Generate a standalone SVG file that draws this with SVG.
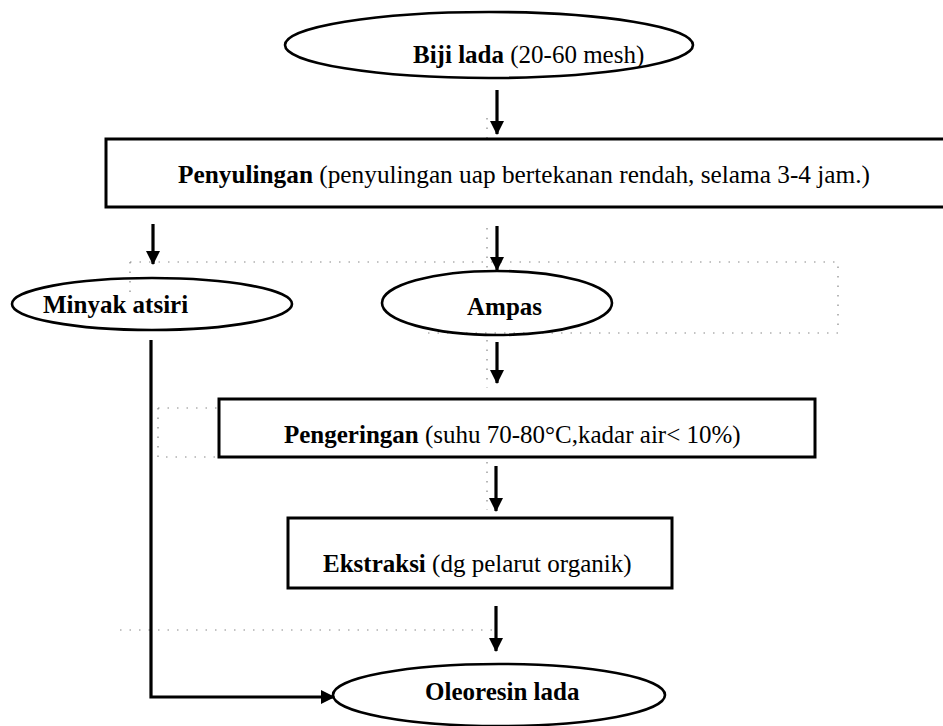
<svg xmlns="http://www.w3.org/2000/svg" width="943" height="726" viewBox="0 0 943 726">
  <defs>
    <marker id="arrowhead" markerWidth="14" markerHeight="16" refX="13" refY="8" orient="auto" markerUnits="userSpaceOnUse">
      <path d="M0,1 L14,8 L0,15 Z" fill="#000"/>
    </marker>
    <style>
      .shape { fill: #fff; stroke: #000; stroke-width: 3; }
      .ell { fill: none; stroke: #000; stroke-width: 2.6; }
      .lbl { font-family: "Liberation Serif", "Times New Roman", serif; font-size: 25px; fill: #000; }
      .b { font-weight: bold; }
      .conn { fill: none; stroke: #000; stroke-width: 3.2; marker-end: url(#arrowhead); }
      .guide { fill: none; stroke: #888; stroke-width: 1.2; stroke-dasharray: 1.5 8; }
    </style>
  </defs>
  <rect width="943" height="726" fill="#fff"/>

  <!-- faint dotted frame lines left in the page -->
  <g id="guides">
    <path class="guide" d="M130,262 H838 V333 H420"/>
    <path class="guide" d="M130,262 V300"/>
    <path class="guide" d="M158,408 H800"/>
    <path class="guide" d="M158,408 V457 H500"/>
    <path class="guide" d="M120,630 H500"/>
    <path class="guide" d="M487,118 V140 M487,228 V272 M487,340 V388 M487,462 V510"/>
  </g>

  <g id="biji-lada">
    <ellipse class="ell" cx="489" cy="45" rx="204" ry="33"/>
    <text class="lbl" x="413" y="63"><tspan class="b">Biji lada</tspan> (20-60 mesh)</text>
  </g>

  <g id="penyulingan">
    <rect class="shape" x="106" y="139" width="900" height="68"/>
    <text class="lbl" x="178" y="183" textLength="692" lengthAdjust="spacingAndGlyphs"><tspan class="b">Penyulingan</tspan> (penyulingan uap bertekanan rendah, selama 3-4 jam.)</text>
  </g>

  <g id="minyak-atsiri">
    <ellipse class="ell" cx="152" cy="304" rx="140" ry="26"/>
    <text class="lbl b" x="43" y="313">Minyak atsiri</text>
  </g>

  <g id="ampas">
    <ellipse class="ell" cx="497" cy="303" rx="115" ry="32"/>
    <text class="lbl b" x="467" y="315">Ampas</text>
  </g>

  <g id="pengeringan">
    <rect class="shape" x="219" y="399" width="596" height="58"/>
    <text class="lbl" x="284" y="443"><tspan class="b">Pengeringan</tspan> (suhu 70-80°C,kadar air&lt; 10%)</text>
  </g>

  <g id="ekstraksi">
    <rect class="shape" x="288" y="518" width="384" height="70"/>
    <text class="lbl" x="323" y="572"><tspan class="b">Ekstraksi</tspan> (dg pelarut organik)</text>
  </g>

  <g id="oleoresin-lada">
    <ellipse class="ell" cx="499" cy="695" rx="166" ry="31"/>
    <text class="lbl b" x="425" y="700">Oleoresin lada</text>
  </g>

  <g id="connectors">
    <line class="conn" x1="497" y1="90" x2="497" y2="134"/>
    <line class="conn" x1="153" y1="224" x2="153" y2="264"/>
    <line class="conn" x1="497" y1="226" x2="497" y2="270"/>
    <line class="conn" x1="497" y1="342" x2="497" y2="383"/>
    <line class="conn" x1="496" y1="466" x2="496" y2="511"/>
    <line class="conn" x1="496" y1="606" x2="496" y2="651"/>
    <polyline class="conn" points="151,340 151,697 334,697"/>
  </g>
</svg>
